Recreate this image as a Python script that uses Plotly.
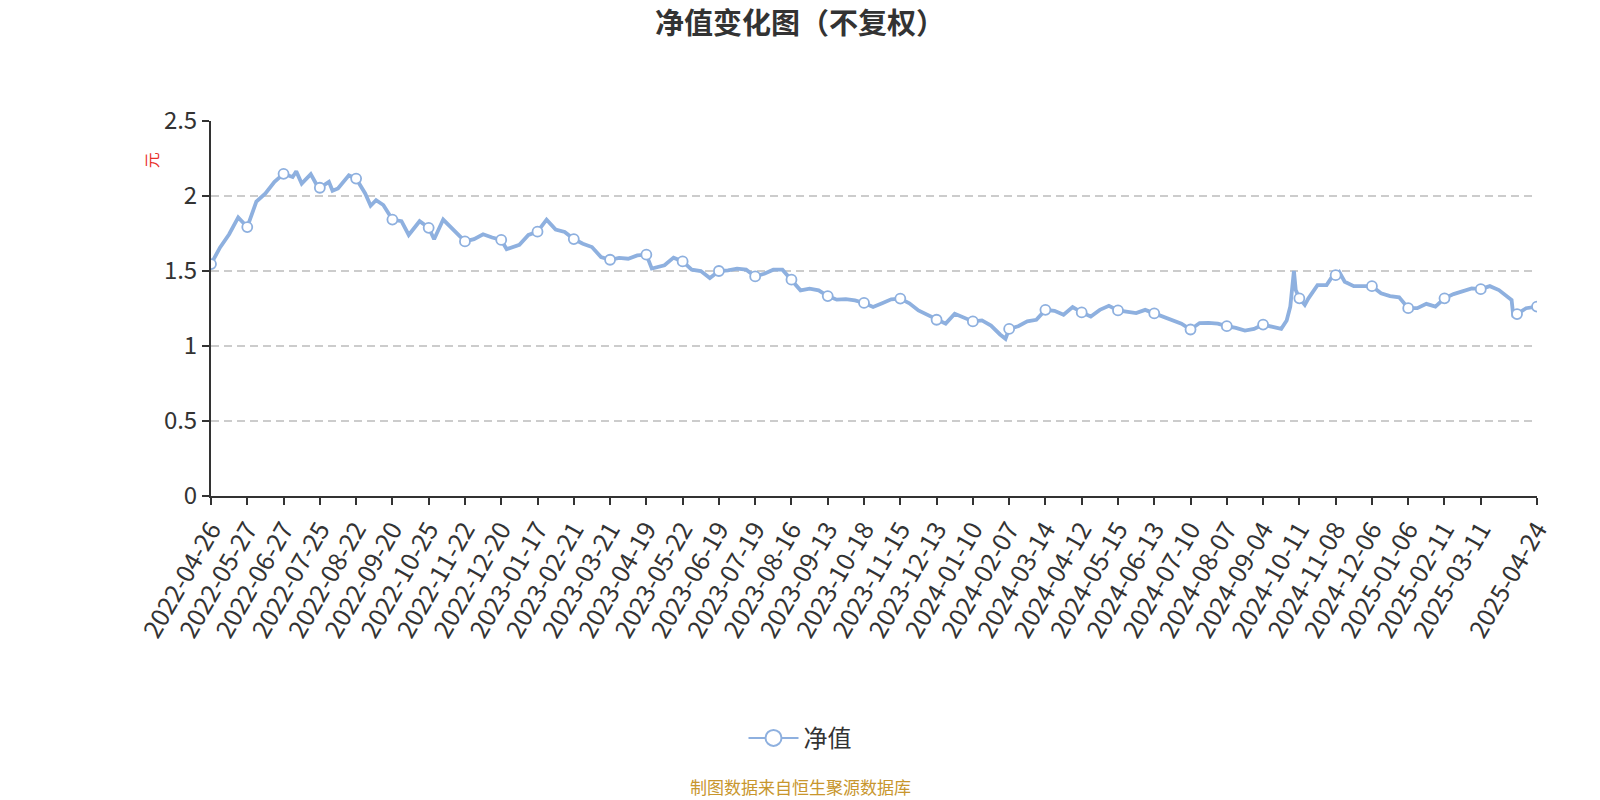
import plotly.graph_objects as go

# ---- data ----
tick_labels = [
    "2022-04-26", "2022-05-27", "2022-06-27", "2022-07-25", "2022-08-22", "2022-09-20",
    "2022-10-25", "2022-11-22", "2022-12-20", "2023-01-17", "2023-02-21", "2023-03-21",
    "2023-04-19", "2023-05-22", "2023-06-19", "2023-07-19", "2023-08-16", "2023-09-13",
    "2023-10-18", "2023-11-15", "2023-12-13", "2024-01-10", "2024-02-07", "2024-03-14",
    "2024-04-12", "2024-05-15", "2024-06-13", "2024-07-10", "2024-08-07", "2024-09-04",
    "2024-10-11", "2024-11-08", "2024-12-06", "2025-01-06", "2025-02-11", "2025-03-11",
    "2025-04-24",
]
tick_day_index = list(range(0, 701, 20)) + [731]   # trading-day index of each labelled date

day_index = [
    0, 5, 10, 15, 20, 25, 30, 35, 40, 45, 47, 50, 55, 58, 60, 65, 67, 70, 76, 80, 85, 88, 91, 95,
    100, 105, 109, 115, 120, 123, 128, 135, 140, 145, 150, 155, 160, 163, 170, 175,
    180, 185, 190, 195, 200, 205, 210, 215, 220, 225, 230, 235, 240, 243, 250, 255,
    260, 265, 270, 275, 280, 285, 290, 295, 300, 305, 310, 315, 320, 325, 330, 335,
    340, 345, 350, 355, 360, 365, 370, 375, 380, 385, 390, 395, 400, 405, 410, 415,
    420, 425, 430, 435, 438, 440, 445, 450, 455, 460, 465, 470, 475, 480, 485, 490,
    495, 500, 505, 510, 515, 520, 525, 530, 535, 540, 545, 550, 555, 560, 565, 570,
    575, 580, 585, 590, 593, 595, 597, 598, 600, 603, 605, 610, 615, 618, 620, 622,
    625, 630, 635, 640, 645, 650, 655, 660, 665, 670, 675, 680, 685, 690, 695, 700,
    705, 710, 715, 717, 718, 720, 725, 731,
]
nav = [
    1.546, 1.657, 1.745, 1.857, 1.793, 1.963, 2.017, 2.094, 2.148, 2.127, 2.164, 2.083,
    2.146, 2.080, 2.055, 2.094, 2.035, 2.050, 2.138, 2.116, 2.017, 1.935, 1.972, 1.940,
    1.843, 1.832, 1.740, 1.832, 1.788, 1.712, 1.843, 1.755, 1.697, 1.712, 1.745, 1.723,
    1.707, 1.646, 1.675, 1.740,
    1.762, 1.842, 1.776, 1.760, 1.713, 1.682, 1.660, 1.593, 1.575, 1.587, 1.582, 1.604,
    1.609, 1.516, 1.538, 1.589,
    1.564, 1.509, 1.500, 1.453, 1.500, 1.504, 1.516, 1.509, 1.464, 1.482, 1.509, 1.509,
    1.442, 1.371, 1.382, 1.371,
    1.333, 1.309, 1.313, 1.304, 1.287, 1.260, 1.285, 1.311, 1.316, 1.285, 1.237, 1.208,
    1.175, 1.149, 1.215, 1.186,
    1.164, 1.171, 1.136, 1.077, 1.048, 1.114, 1.132, 1.164, 1.175, 1.241, 1.235, 1.208,
    1.259, 1.224, 1.197, 1.241,
    1.268, 1.237, 1.230, 1.219, 1.241, 1.217, 1.193, 1.169, 1.149, 1.110, 1.153, 1.154,
    1.149, 1.132, 1.121, 1.103,
    1.114, 1.143, 1.127, 1.114, 1.170, 1.263, 1.500, 1.373, 1.318, 1.274, 1.318, 1.406,
    1.406, 1.461, 1.472, 1.493,
    1.428, 1.399, 1.399, 1.399, 1.351, 1.333, 1.325, 1.252, 1.252, 1.281, 1.263, 1.318,
    1.346, 1.362, 1.384, 1.379,
    1.399, 1.373, 1.329, 1.307, 1.193, 1.213, 1.252, 1.263,
]
series_name = "净值"
title_text = "净值变化图（不复权）"
y_unit = "元"
source_text = "制图数据来自恒生聚源数据库"

# ---- styling ----
LINE_COLOR = "#8EB0DF"
FONT = "Noto Sans CJK SC"

last_day = day_index[-1]
mk_x = [d for d in day_index if d % 20 == 0 or d == last_day]
mk_y = [v for d, v in zip(day_index, nav) if d % 20 == 0 or d == last_day]

fig = go.Figure()
fig.add_trace(go.Scatter(
    x=day_index, y=nav, mode="lines", showlegend=False, hoverinfo="skip",
    line=dict(color=LINE_COLOR, width=3.8),
))
fig.add_trace(go.Scatter(
    x=mk_x, y=mk_y, mode="markers", showlegend=False,
    marker=dict(symbol="circle", size=10, color="white",
                line=dict(color=LINE_COLOR, width=1.8)),
))
fig.add_trace(go.Scatter(
    x=[None], y=[None], mode="lines+markers", name=series_name,
    line=dict(color=LINE_COLOR, width=2),
    marker=dict(symbol="circle", size=16, color="white",
                line=dict(color=LINE_COLOR, width=2)),
))

L, R, T, B = 211, 63, 120.7, 304.3
plot_w = 1600 - L - R
plot_h = 800 - T - B
cx = (800 - L) / plot_w

fig.update_layout(
    width=1600, height=800,
    margin=dict(l=L, r=R, t=T, b=B, autoexpand=False),
    paper_bgcolor="white", plot_bgcolor="white",
    font=dict(family=FONT, color="#333333"),
    title=dict(text=title_text, x=0.5, xref="container", xanchor="center",
               y=1 - 24 / 800, yref="container", yanchor="middle",
               font=dict(size=29, family=FONT, color="#333333", weight="bold")),
    xaxis=dict(
        range=[0, last_day], tickmode="array", tickvals=tick_day_index, ticktext=tick_labels,
        tickangle=-60, tickfont=dict(size=25, color="#333333"),
        showgrid=False, zeroline=False, showline=True, linecolor="#333333", linewidth=2,
        ticks="outside", ticklen=7, tickwidth=2, tickcolor="#333333",
    ),
    yaxis=dict(
        range=[0, 2.5], tickmode="array", tickvals=[0, 0.5, 1, 1.5, 2, 2.5],
        ticktext=["0", "0.5", "1", "1.5", "2", "2.5"],
        tickfont=dict(size=24, color="#333333"),
        showgrid=True, gridcolor="#cccccc", griddash="8px,5px", gridwidth=1.5,
        zeroline=False, showline=True, linecolor="#333333", linewidth=2,
        ticks="outside", ticklen=7, tickwidth=2, tickcolor="#333333",
    ),
    legend=dict(orientation="h", x=cx, xanchor="center", y=(800 - B - 738) / plot_h,
                yanchor="middle", itemwidth=50,
                font=dict(size=24, color="#333333"), bgcolor="rgba(0,0,0,0)"),
    annotations=[
        dict(text=y_unit, xref="paper", yref="paper", x=(151 - L) / plot_w,
             y=(800 - B - 160) / plot_h, showarrow=False, textangle=-90,
             font=dict(size=16, color="#e8302a", family=FONT),
             xanchor="center", yanchor="middle"),
        dict(text=source_text, xref="paper", yref="paper", x=cx,
             y=(800 - B - 786) / plot_h, showarrow=False,
             font=dict(size=17, color="#C8962D", family=FONT),
             xanchor="center", yanchor="middle"),
    ],
)

fig.write_html("out.html", config={"displayModeBar": False},
               post_script="document.body.style.margin='0';")
